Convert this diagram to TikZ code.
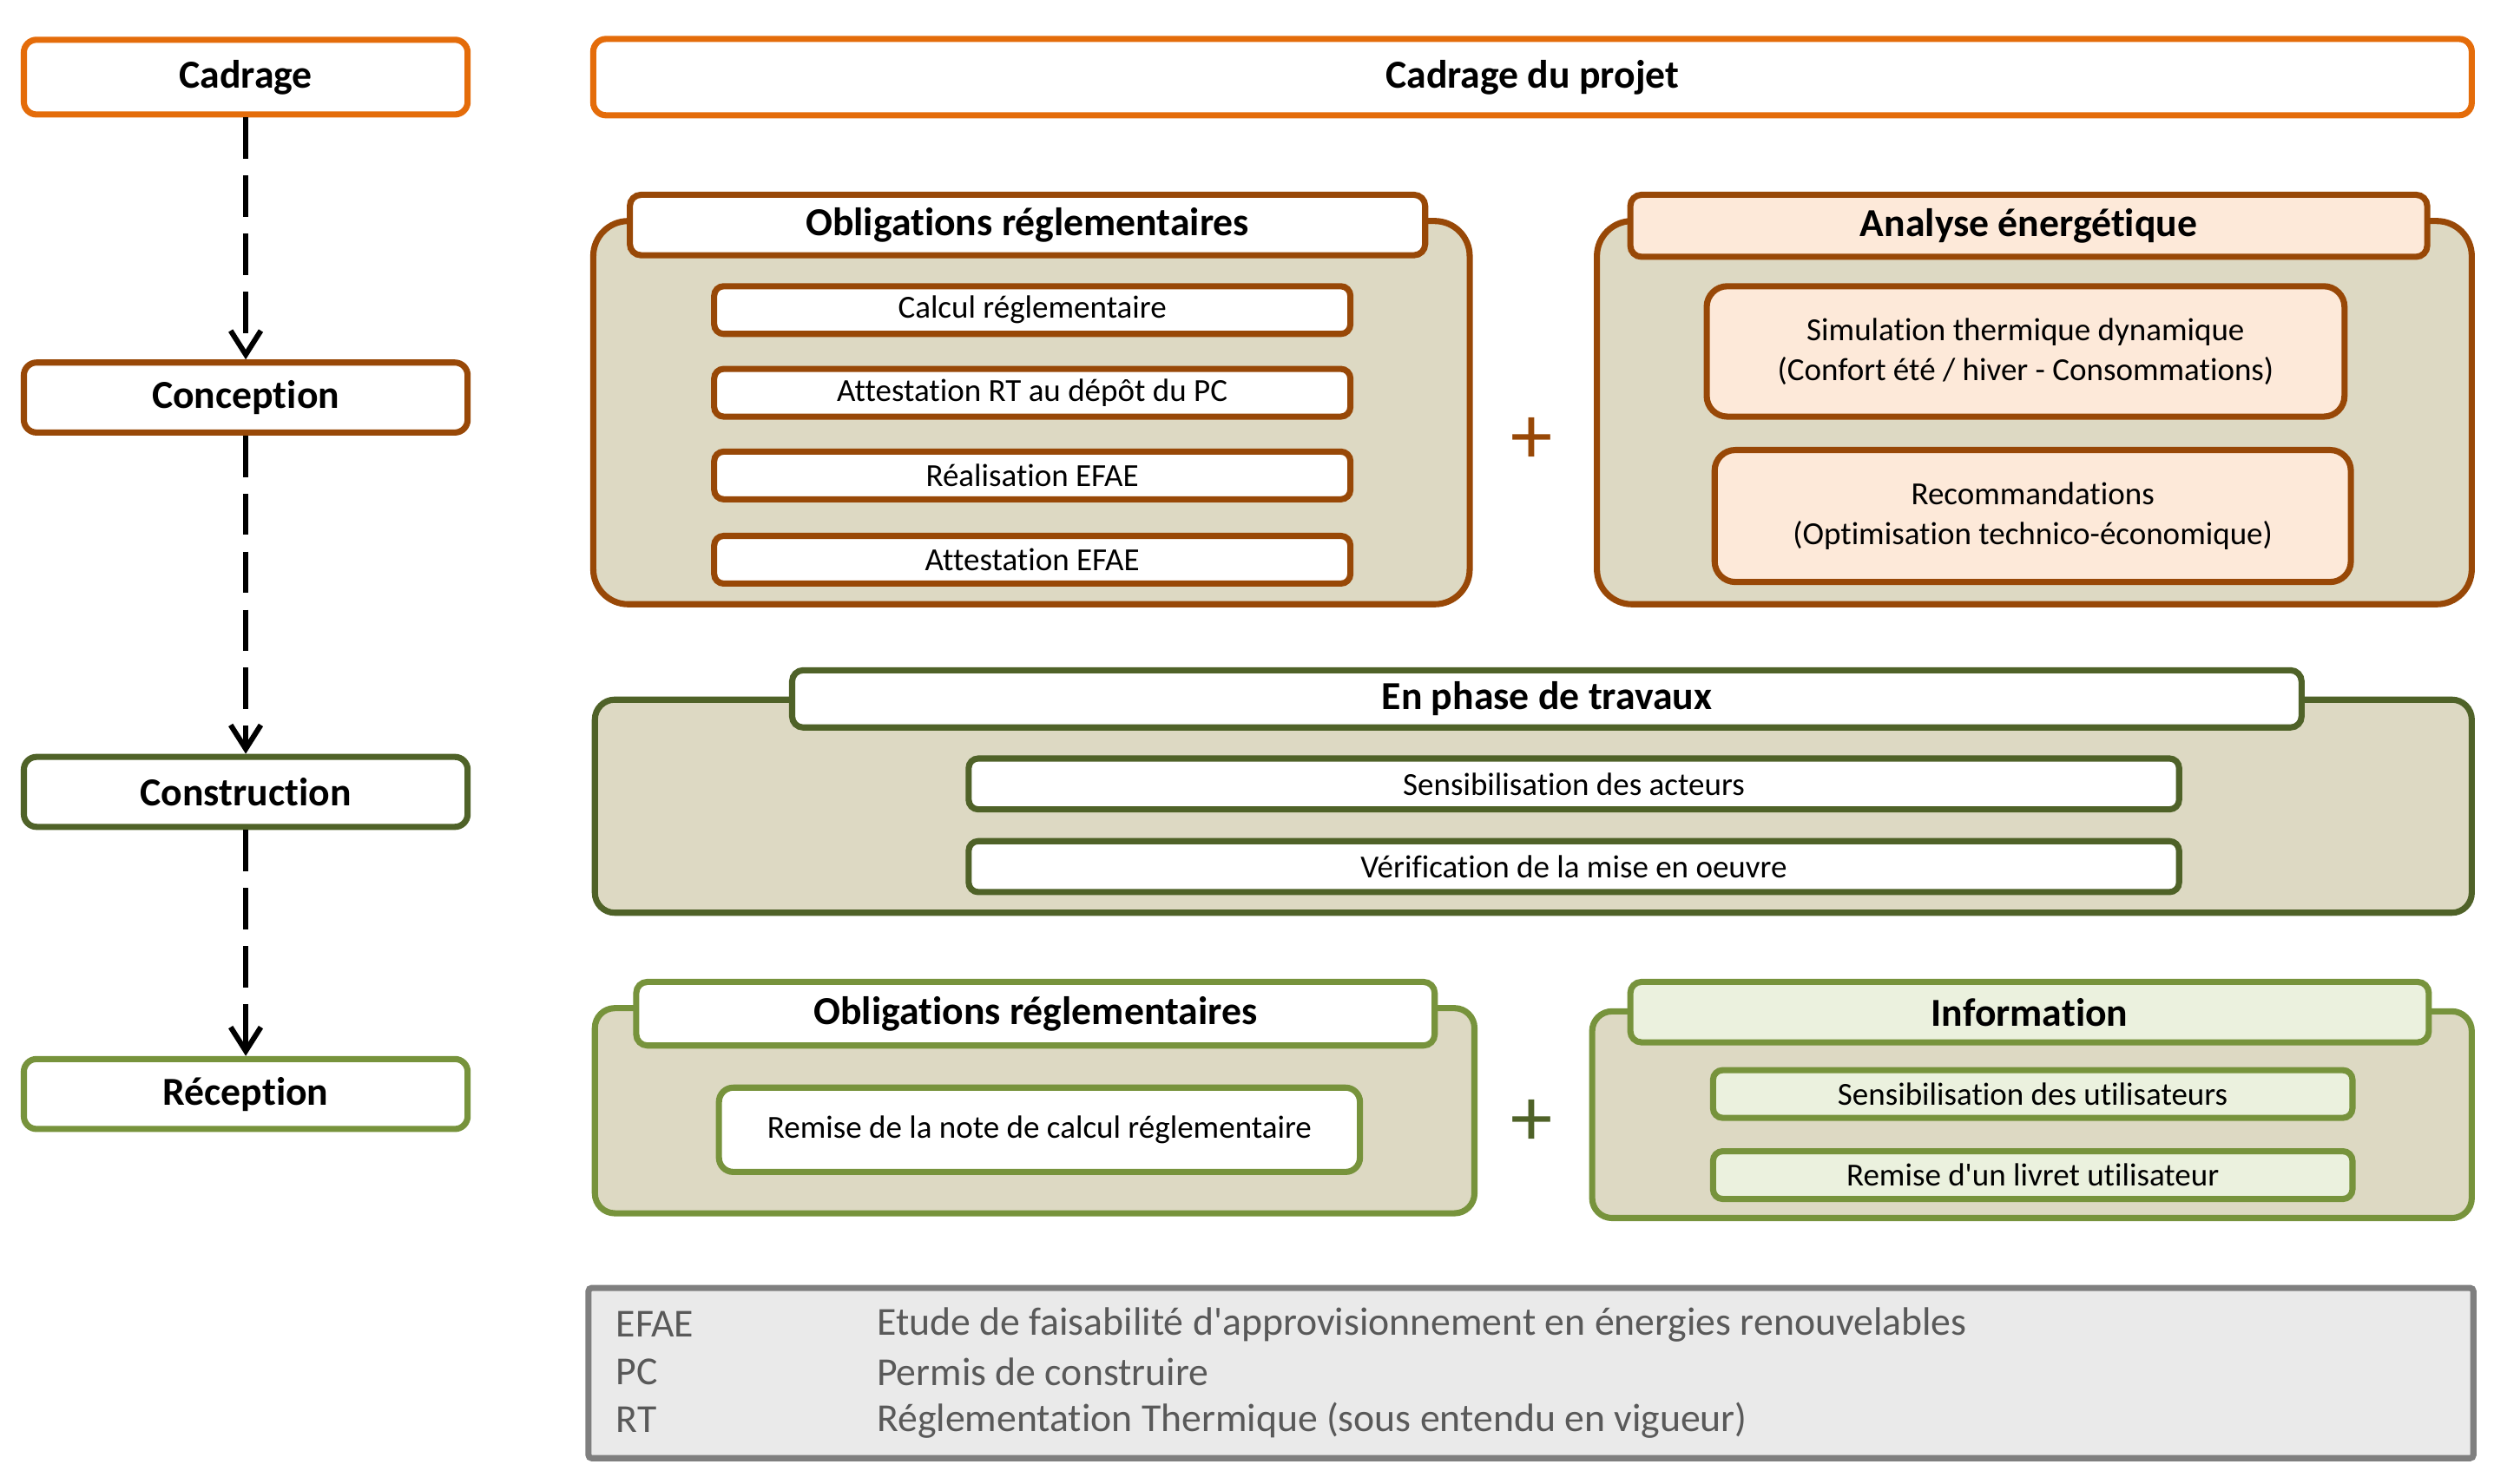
\documentclass[tikz,border=0pt]{standalone}
\usepackage{fontspec}
\setmainfont{Carlito}[Ligatures={NoCommon}]
\usetikzlibrary{arrows.meta}
\definecolor{corange}{HTML}{E46C0A}
\definecolor{cbrown}{HTML}{984807}
\definecolor{cdgreen}{HTML}{4F6228}
\definecolor{cogreen}{HTML}{77933C}
\definecolor{ctan}{HTML}{DDD9C3}
\definecolor{cpeach}{HTML}{FDE9D9}
\definecolor{clgreen}{HTML}{EBF1DE}
\definecolor{clegfill}{HTML}{EAEAEA}
\definecolor{clegline}{HTML}{7F7F7F}
\definecolor{clegtext}{HTML}{595959}
\tikzset{
  sz/.style 2 args={minimum width=#1*0.02cm, minimum height=#2*0.02cm},
  bx/.style={draw, line width=2.2pt, inner sep=0pt, align=center, fill=white,
    rounded corners=0.14cm, font=\fontsize{11.5}{14.2}\selectfont},
  ttl/.style={bx, font=\fontsize{14.2}{17}\selectfont\bfseries},
  outer/.style={draw, line width=2.2pt, inner sep=0pt, fill=ctan},
  darr/.style={draw=black, line width=1.9pt, dash pattern=on 0.52cm off 0.21cm,
    -{Straight Barb[length=0.3cm, width=0.38cm, line width=1.9pt]}},
  plus/.style={inner sep=0pt, font=\fontsize{30}{30}\selectfont},
  leg/.style={anchor=west, inner sep=0pt, text=clegtext, font=\fontsize{14.2}{17}\selectfont},
}
\begin{document}
\begin{tikzpicture}[x=0.02cm, y=-0.02cm]
\useasboundingbox (0,0) rectangle (1568,933);

% left column
\node[ttl, draw=corange, rounded corners=0.16cm, sz={279}{47}] (cadrage) at (154.5,48.5) {Cadrage};
\node[ttl, draw=cbrown, rounded corners=0.16cm, sz={279}{44}] (conception) at (154.5,250) {Conception};
\node[ttl, draw=cdgreen, rounded corners=0.16cm, sz={279}{44}] (construction) at (154.5,498) {Construction};
\node[ttl, draw=cogreen, rounded corners=0.16cm, sz={279}{44}] (reception) at (154.5,688) {Réception};
\draw[darr] (cadrage) -- (conception);
\draw[darr] (conception) -- (construction);
\draw[darr] (construction) -- (reception);

% cadrage du projet
\node[ttl, draw=corange, rounded corners=0.16cm, sz={1181}{48}] (projet) at (963.5,48.5) {Cadrage du projet};

% conception row
\node[outer, draw=cbrown, rounded corners=0.44cm, sz={551}{241}] (oblA) at (648.5,259.5) {};
\node[ttl, draw=cbrown, sz={500}{38}] (oblAh) at (646,141.5) {Obligations réglementaires};
\node[bx, draw=cbrown, rounded corners=0.12cm, sz={400}{30}] (a1) at (649,195) {Calcul réglementaire};
\node[bx, draw=cbrown, rounded corners=0.12cm, sz={400}{30}] (a2) at (649,247) {Attestation RT au dépôt du PC};
\node[bx, draw=cbrown, rounded corners=0.12cm, sz={400}{30}] (a3) at (649,299) {Réalisation EFAE};
\node[bx, draw=cbrown, rounded corners=0.12cm, sz={400}{30}] (a4) at (649,352) {Attestation EFAE};
\node[plus, text=cbrown] (plusA) at (963,277) {+};
\node[outer, draw=cbrown, rounded corners=0.44cm, sz={550}{241}] (anaE) at (1279,259.5) {};
\node[ttl, draw=cbrown, fill=cpeach, sz={501}{39}] (anaEh) at (1275.5,142) {Analyse énergétique};
\node[bx, draw=cbrown, fill=cpeach, rounded corners=0.26cm, sz={401}{82}] (sim) at (1273.5,221) {Simulation thermique dynamique\\(Confort été / hiver - Consommations)};
\node[bx, draw=cbrown, fill=cpeach, rounded corners=0.26cm, sz={400}{83}] (reco) at (1278,324.5) {Recommandations\\(Optimisation technico-économique)};

% construction row
\node[outer, draw=cdgreen, rounded corners=0.25cm, sz={1180}{134}] (trav) at (964,507) {};
\node[ttl, draw=cdgreen, sz={949}{36}] (travh) at (972.5,439.5) {En phase de travaux};
\node[bx, draw=cdgreen, rounded corners=0.12cm, sz={761}{32}] (t1) at (989.5,493) {Sensibilisation des acteurs};
\node[bx, draw=cdgreen, rounded corners=0.12cm, sz={761}{32}] (t2) at (989.5,545) {Vérification de la mise en oeuvre};

% reception row
\node[outer, draw=cogreen, rounded corners=0.25cm, sz={553}{129}] (oblR) at (650.5,698.5) {};
\node[ttl, draw=cogreen, sz={502}{40}] (oblRh) at (651,637.5) {Obligations réglementaires};
\node[bx, draw=cogreen, rounded corners=0.18cm, sz={403}{53}] (r1) at (653.5,710.5) {Remise de la note de calcul réglementaire};
\node[plus, text=cdgreen] (plusR) at (963,706) {+};
\node[outer, draw=cogreen, rounded corners=0.25cm, sz={553}{130}] (info) at (1277.5,701) {};
\node[ttl, draw=cogreen, fill=clgreen, sz={502}{38}] (infoh) at (1276,636.5) {Information};
\node[bx, draw=cogreen, fill=clgreen, rounded corners=0.12cm, sz={402}{30}] (i1) at (1278,688) {Sensibilisation des utilisateurs};
\node[bx, draw=cogreen, fill=clgreen, rounded corners=0.12cm, sz={402}{30}] (i2) at (1278,739) {Remise d\textquotesingle un livret utilisateur};

% legend
\node[draw=clegline, fill=clegfill, line width=2.2pt, inner sep=0pt, rounded corners=0.04cm, sz={1185}{107}] (legend) at (962.5,863.5) {};
\node[leg] (k1) at (387,833) {EFAE};
\node[leg] (k2) at (387,863) {PC};
\node[leg] (k3) at (387,893) {RT};
\node[leg] (d1) at (551,833) {Etude de faisabilité d\textquotesingle approvisionnement en énergies renouvelables};
\node[leg] (d2) at (551,863) {Permis de construire};
\node[leg] (d3) at (551,893) {Réglementation Thermique (sous entendu en vigueur)};
\end{tikzpicture}
\end{document}
